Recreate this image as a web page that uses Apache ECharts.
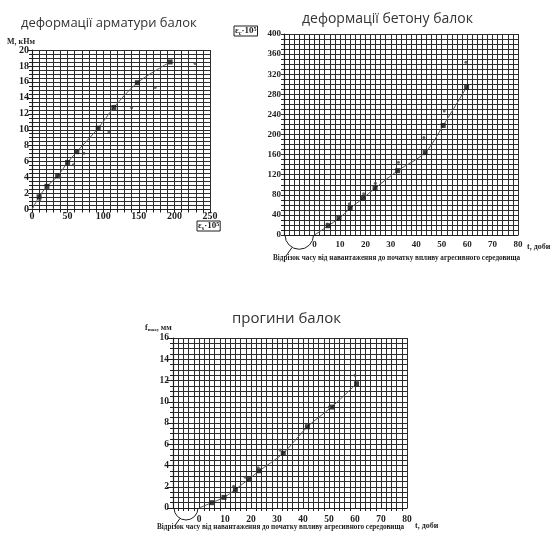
<!DOCTYPE html>
<html>
<head>
<meta charset="utf-8">
<script src="https://cdn.jsdelivr.net/npm/echarts@6/dist/echarts.min.js"></script>
<style>
  html, body { margin: 0; padding: 0; background: #fff; }
  #chart { width: 552px; height: 540px; }
</style>
</head>
<body>
<div id="chart"></div>
<script>
// --- деформації арматури (M vs eps_s) ---
const epsS = [10, 21, 36, 50, 63, 93, 115, 148, 194]
const momS = [1.6, 2.9, 4.2, 5.9, 7.25, 10.2, 12.8, 15.9, 18.5]
const epsS2 = [11, 21.5, 39, 58, 73, 108, 140, 173, 229]
const momS2 = [1.2, 2.7, 4.1, 5.6, 7.05, 9.75, 12.75, 15.3, 18.3]

// --- деформації бетону (eps_b vs t) ---
const dayB = [5.4, 9.6, 14, 19, 23.8, 32.7, 43.5, 50.6, 59.8]
const epsB = [18.5, 33, 53, 73, 93, 128, 164, 218, 294]
const dayB2 = [5, 9.4, 13.7, 19.3, 23.9, 33, 43, 51, 59.5]
const epsB2 = [22, 36.5, 62, 82, 103, 145, 194, 247, 344]

// --- прогини (f vs t) ---
const dayF = [4.9, 9.6, 14, 19.1, 23.2, 32.4, 41.7, 51, 60.6]
const defF = [0.5, 1.0, 1.75, 2.7, 3.5, 5.15, 7.65, 9.5, 11.7]
const dayF2 = [13.3, 17.8, 22.8, 31.2, 50.1, 60]
const defF2 = [2.05, 2.9, 3.8, 5.45, 9.5, 12.5]

const pairs = (xs, ys) => xs.map((x, i) => [x, ys[i]])
const withOrigin = (xs, ys) => [[0, 0]].concat(pairs(xs, ys))

const ink = '#1e1e1e'
const gridColor = '#2c2c2c'
const serif = 'Liberation Serif'

const chart = echarts.init(document.getElementById('chart'))

const valueAxis = (gridIndex, o) => Object.assign({
  type: 'value',
  gridIndex: gridIndex,
  axisLine: { show: true, onZero: false, lineStyle: { color: ink, width: 1.2 } },
  axisTick: { show: false },
  splitLine: { show: true, lineStyle: { color: gridColor, width: 1 } },
  minorTick: { show: false },
  axisLabel: { color: ink, fontFamily: serif, fontWeight: 'bold', fontSize: 9.5 }
}, o)

const minor = (n) => ({ show: true, splitNumber: n })
const minorLine = { show: true, lineStyle: { color: gridColor, width: 1 } }

const mainSeries = (axisIdx, xs, ys) => ({
  type: 'scatter', xAxisIndex: axisIdx, yAxisIndex: axisIdx,
  data: pairs(xs, ys), symbol: 'rect', symbolSize: 5,
  itemStyle: { color: '#111' }, z: 5
})
const otherSeries = (axisIdx, xs, ys) => ({
  type: 'scatter', xAxisIndex: axisIdx, yAxisIndex: axisIdx,
  data: pairs(xs, ys), symbol: 'circle', symbolSize: 3,
  itemStyle: { color: '#444' }, z: 5
})
const curve = (axisIdx, xs, ys) => ({
  type: 'line', xAxisIndex: axisIdx, yAxisIndex: axisIdx,
  data: withOrigin(xs, ys), showSymbol: false, smooth: 0.3,
  lineStyle: { color: '#555', width: 1 }, z: 4
})

const titleStyle = { color: '#333', fontFamily: 'Open Sans', fontWeight: 'normal', fontSize: 14 }

chart.setOption({
  backgroundColor: '#fff',
  animation: false,
  title: [
    { text: 'деформації арматури балок', left: 16, top: 12, textStyle: Object.assign({}, titleStyle, { fontSize: 13 }) },
    { text: 'деформації бетону балок', left: 297, top: 7, textStyle: titleStyle },
    { text: 'прогини балок', left: 227, top: 306, textStyle: Object.assign({}, titleStyle, { fontSize: 15 }) }
  ],
  grid: [
    { left: 32, top: 50, width: 178, height: 159.5 },
    { left: 284, top: 34, width: 234, height: 201 },
    { left: 173, top: 338, width: 234, height: 170 }
  ],
  xAxis: [
    valueAxis(0, {
      min: 0, max: 250, interval: 50,
      minorTick: minor(5), minorSplitLine: minorLine,
      axisTick: { show: true, length: 3, lineStyle: { color: ink } },
      axisLabel: { color: ink, fontFamily: serif, fontWeight: 'bold', fontSize: 10, margin: 2 }
    }),
    valueAxis(1, {
      min: -12, max: 80, interval: 2,
      axisLabel: {
        color: ink, fontFamily: serif, fontWeight: 'bold', fontSize: 9, margin: 5,
        formatter: v => (v >= 0 && v % 10 === 0) ? String(v) : ''
      }
    }),
    valueAxis(2, {
      min: -10, max: 80, interval: 10,
      minorTick: minor(5), minorSplitLine: minorLine,
      axisLabel: {
        color: ink, fontFamily: serif, fontWeight: 'bold', fontSize: 9.5, margin: 7,
        formatter: v => v >= 0 ? String(v) : ''
      }
    })
  ],
  yAxis: [
    valueAxis(0, {
      min: 0, max: 20, interval: 2,
      minorTick: minor(4), minorSplitLine: minorLine,
      axisTick: { show: true, length: 4, lineStyle: { color: ink } },
      axisLabel: { color: ink, fontFamily: serif, fontWeight: 'bold', fontSize: 10, margin: 3 }
    }),
    valueAxis(1, {
      min: 0, max: 400, interval: 40,
      minorTick: minor(4), minorSplitLine: minorLine,
      axisTick: { show: true, length: 3, lineStyle: { color: ink } },
      axisLabel: { color: ink, fontFamily: serif, fontWeight: 'bold', fontSize: 9, margin: 3 }
    }),
    valueAxis(2, {
      min: 0, max: 16, interval: 2,
      minorTick: minor(4), minorSplitLine: minorLine,
      axisTick: { show: true, length: 6, lineStyle: { color: ink } },
      axisLabel: { color: ink, fontFamily: serif, fontWeight: 'bold', fontSize: 9.5, margin: 4 }
    })
  ],
  series: [
    curve(0, epsS, momS), mainSeries(0, epsS, momS), otherSeries(0, epsS2, momS2),
    curve(1, dayB, epsB), mainSeries(1, dayB, epsB), otherSeries(1, dayB2, epsB2),
    curve(2, dayF, defF), mainSeries(2, dayF, defF), otherSeries(2, dayF2, defF2)
  ]
})

// annotations: axis names, captions and the circled segment before t = 0
const caption = 'Відрізок часу від навантаження до початку впливу агресивного середовища'
const smallText = (x, y, text, extra) => ({
  type: 'text', x: x, y: y, silent: true,
  style: Object.assign({
    text: text, fill: ink, fontFamily: serif, fontWeight: 'bold', fontSize: 8,
    verticalAlign: 'middle'
  }, extra || {})
})
const boxed = (x, y, sub) => ({
  type: 'text', x: x, y: y, silent: true,
  style: {
    text: '{a|ε}{b|' + sub + '}{a|·10}{c|5}',
    verticalAlign: 'middle', fill: ink,
    borderColor: ink, borderWidth: 1, padding: [0, 1, 0, 1],
    rich: {
      a: { fontFamily: serif, fontSize: 9, fontWeight: 'bold', color: ink },
      b: { fontFamily: serif, fontSize: 6, fontWeight: 'bold', color: ink, verticalAlign: 'bottom', padding: [4, 0, 0, 0] },
      c: { fontFamily: serif, fontSize: 6, fontWeight: 'bold', color: ink, verticalAlign: 'top', padding: [0, 0, 4, 0] }
    }
  }
})
const bracket = (gi, xLeft) => {
  const a = chart.convertToPixel({ gridIndex: gi }, [xLeft, 0])
  const b = chart.convertToPixel({ gridIndex: gi }, [0, 0])
  const cx = (a[0] + b[0]) / 2, cy = a[1]
  const r = (b[0] - a[0]) / 2 - 1
  return [
    { type: 'arc', silent: true, shape: { cx: cx, cy: cy, r: r, startAngle: 0, endAngle: Math.PI, clockwise: true },
      style: { stroke: ink, fill: 'transparent', lineWidth: 1 } },
    { type: 'line', silent: true,
      shape: { x1: cx - r * 0.5, y1: cy + r * 0.87, x2: cx - r * 0.95, y2: cy + r * 1.5 },
      style: { stroke: ink, lineWidth: 1 } }
  ]
}

const end2 = chart.convertToPixel({ gridIndex: 1 }, [80, 0])
const end3 = chart.convertToPixel({ gridIndex: 2 }, [80, 0])

chart.setOption({
  graphic: [
    smallText(7, 42, 'M, кНм'),
    boxed(197, 226, 's'),
    boxed(234, 31, 'c'),
    {
      type: 'text', x: 145, y: 328, silent: true,
      style: {
        text: '{f|f}{s|max}{f|, мм}', verticalAlign: 'middle', fill: ink,
        rich: {
          f: { fontFamily: serif, fontSize: 8, fontWeight: 'bold', color: ink },
          s: { fontFamily: serif, fontSize: 5, fontWeight: 'bold', color: ink, verticalAlign: 'bottom' }
        }
      }
    },
    smallText(end2[0] + 9, end2[1] + 12, 't, доби'),
    smallText(end3[0] + 8, end3[1] + 18, 't, доби'),
    smallText(273, 258, caption, { fontSize: 7.2 }),
    smallText(157, 527, caption, { fontSize: 7.2 })
  ].concat(bracket(1, -12), bracket(2, -10))
})
</script>
</body>
</html>
